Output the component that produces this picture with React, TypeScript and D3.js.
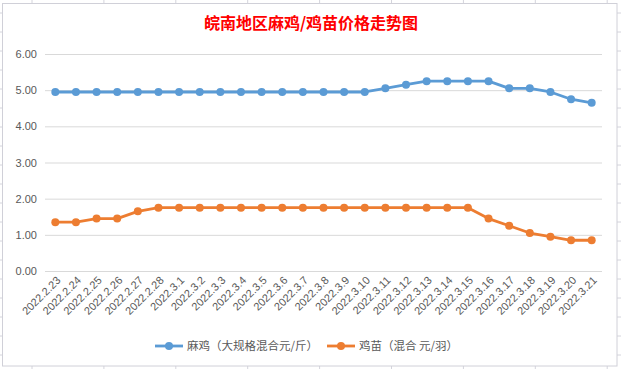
import * as d3 from 'd3';

const dates = [
  '2022.2.23', '2022.2.24', '2022.2.25', '2022.2.26', '2022.2.27', '2022.2.28',
  '2022.3.1', '2022.3.2', '2022.3.3', '2022.3.4', '2022.3.5', '2022.3.6', '2022.3.7',
  '2022.3.8', '2022.3.9', '2022.3.10', '2022.3.11', '2022.3.12', '2022.3.13',
  '2022.3.14', '2022.3.15', '2022.3.16', '2022.3.17', '2022.3.18', '2022.3.19',
  '2022.3.20', '2022.3.21',
];
const maji = [
  4.95, 4.95, 4.95, 4.95, 4.95, 4.95, 4.95, 4.95, 4.95, 4.95, 4.95, 4.95, 4.95,
  4.95, 4.95, 4.95, 5.05, 5.15, 5.25, 5.25, 5.25, 5.25, 5.05, 5.05, 4.95, 4.75, 4.65,
];
const jimiao = [
  1.35, 1.35, 1.45, 1.45, 1.65, 1.75, 1.75, 1.75, 1.75, 1.75, 1.75, 1.75, 1.75,
  1.75, 1.75, 1.75, 1.75, 1.75, 1.75, 1.75, 1.75, 1.45, 1.25, 1.05, 0.95, 0.85, 0.85,
];
const yTicks = [0, 1, 2, 3, 4, 5, 6];
const seriesNames = ['麻鸡（大规格混合元/斤）', '鸡苗（混合 元/羽）'];
const colors = ['#5b9bd5', '#ed7d31'];

const W = 621;
const H = 369;

export default function App() {
  const x = d3.scaleBand<string>().domain(dates).range([45, 602]);
  const y = d3.scaleLinear().domain([0, 6]).range([271, 54]);
  const cx = (d: string) => (x(d) ?? 0) + x.bandwidth() / 2;
  const line = d3.line<number>().x((_, i) => cx(dates[i])).y((v) => y(v));
  const series = [maji, jimiao];

  // spreadsheet cells behind the chart object
  const cols = d3.range(0, 9).map((k) => 32 + 71.9 * k);
  const rows = d3.range(0, 20).map((k) => 13 + 19 * k);
  const font = '"Liberation Sans", "Noto Sans CJK SC", sans-serif';

  return (
    <svg width={W} height={H} style={{ position: 'absolute', left: 0, top: 0 }} fontFamily={font}>
      <rect width={W} height={H} fill="#fff" />
      {cols.map((c) => (
        <line key={'c' + c} x1={c} x2={c} y1={0} y2={H} stroke="#d4d4dc" />
      ))}
      {rows.map((r) => (
        <line key={'r' + r} x1={0} x2={W} y1={r} y2={r} stroke="#d4d4dc" />
      ))}
      <rect x={2.5} y={3.5} width={614.5} height={362.5} fill="#fff" stroke="#d0d0d8" />

      <text x={311} y={29} textAnchor="middle" fill="#ff0000" fontSize={16} fontWeight="bold"
        fontFamily='"Noto Sans CJK SC", sans-serif'>
        皖南地区麻鸡/鸡苗价格走势图
      </text>

      {yTicks.map((t) => (
        <g key={t}>
          <line x1={45} x2={602} y1={y(t) + 0.5} y2={y(t) + 0.5} stroke="#d9d9d9" />
          <text x={37} y={y(t) + 4} textAnchor="end" fontSize={11} fill="#595959">
            {t.toFixed(2)}
          </text>
        </g>
      ))}

      {dates.map((d) => (
        <text key={d} transform={`translate(${cx(d) + 6},${281}) rotate(-45)`} textAnchor="end"
          fontSize={11} fill="#595959">
          {d}
        </text>
      ))}

      {series.map((s, si) => (
        <g key={si}>
          <path d={line(s) ?? ''} fill="none" stroke={colors[si]} strokeWidth={2.8} strokeLinejoin="round" />
          {s.map((v, i) => (
            <circle key={i} cx={cx(dates[i])} cy={y(v)} r={4} fill={colors[si]} />
          ))}
        </g>
      ))}

      {seriesNames.map((n, si) => {
        const lx = si === 0 ? 155 : 327;
        return (
          <g key={n}>
            <line x1={lx} x2={lx + 28} y1={346} y2={346} stroke={colors[si]} strokeWidth={2.8} />
            <circle cx={lx + 14} cy={346} r={4} fill={colors[si]} />
            <text x={lx + 32} y={350} fontSize={11.5} fill="#595959"
              fontFamily='"Noto Sans CJK SC", sans-serif'>
              {n}
            </text>
          </g>
        );
      })}
    </svg>
  );
}
